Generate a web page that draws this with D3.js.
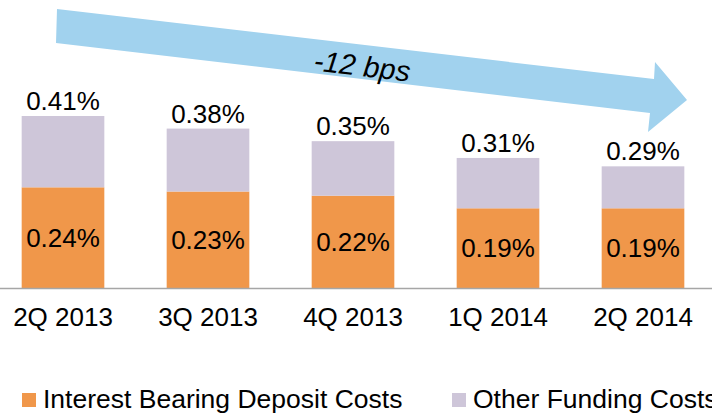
<!DOCTYPE html>
<html>
<head>
<meta charset="utf-8">
<script src="https://cdn.jsdelivr.net/npm/d3@7"></script>
<style>
  body { margin: 0; background: #fff; }
  svg { display: block; font-family: "Liberation Sans", Arial, sans-serif; }
</style>
</head>
<body>
<svg id="chart"></svg>
<script>
// funding cost by quarter, in percent
var quarters = ["2Q 2013", "3Q 2013", "4Q 2013", "1Q 2014", "2Q 2014"];
var depositCosts = [0.24, 0.23, 0.22, 0.19, 0.19];
var otherCosts = [0.17, 0.15, 0.13, 0.12, 0.10];
var totalLabels = ["0.41%", "0.38%", "0.35%", "0.31%", "0.29%"];
var seriesNames = ["Interest Bearing Deposit Costs", "Other Funding Costs"];
var changeLabel = "-12 bps";

var width = 712;
var height = 414;
var baseline = 288;
var colors = ["#f0974a", "#cec6d9"];

var data = quarters.map(function(q, i) {
  return { q: q, deposit: depositCosts[i], other: otherCosts[i], total: depositCosts[i] + otherCosts[i] };
});

var svg = d3.select("#chart")
    .attr("width", width)
    .attr("height", height);

var x = d3.scaleBand()
    .domain(quarters)
    .range([-9.5, 715.5])
    .paddingInner(0.43)
    .paddingOuter(0.215);

var y = d3.scaleLinear()
    .domain([0, 0.41])
    .range([baseline, 116]);

// trend arrow behind the bars
var ax0 = 56, ax1 = 652, tipX = 687;
var arrow = [
  [ax0 + 1, 9], [ax1 + 2, 79], [ax1 + 3, 62], [tipX, 100],
  [ax1 - 4, 132], [ax1 - 2, 113], [ax0, 43]
];
svg.append("polygon")
    .attr("points", arrow.map(p => p.join(",")).join(" "))
    .attr("fill", "#a1d2ee");

var angle = Math.atan2(79 - 9, ax1 - ax0) * 180 / Math.PI;
svg.append("text")
    .attr("transform", "translate(361,76) rotate(" + angle + ")")
    .attr("text-anchor", "middle")
    .style("font-size", "29px")
    .style("font-style", "italic")
    .text(changeLabel);

var g = svg.append("g")
  .selectAll("g")
    .data(data)
    .join("g");

g.append("rect")
    .attr("x", d => x(d.q))
    .attr("width", x.bandwidth())
    .attr("y", d => y(d.deposit))
    .attr("height", d => baseline - y(d.deposit))
    .attr("fill", colors[0]);

g.append("rect")
    .attr("x", d => x(d.q))
    .attr("width", x.bandwidth())
    .attr("y", d => y(d.total))
    .attr("height", d => y(d.deposit) - y(d.total))
    .attr("fill", colors[1]);

g.append("text")
    .attr("x", d => x(d.q) + x.bandwidth() / 2)
    .attr("y", d => (y(d.deposit) + baseline) / 2 + 9)
    .attr("text-anchor", "middle")
    .style("font-size", "26px")
    .text(d => d3.format(".2f")(d.deposit) + "%");

g.append("text")
    .attr("x", d => x(d.q) + x.bandwidth() / 2)
    .attr("y", d => y(d.total) - 6)
    .attr("text-anchor", "middle")
    .style("font-size", "26px")
    .text((d, i) => totalLabels[i]);

// axis
var xAxis = d3.axisBottom(x).tickSize(0).tickPadding(20);
var axisG = svg.append("g")
    .attr("transform", "translate(0," + baseline + ")")
    .call(xAxis);
axisG.select(".domain").remove();
axisG.selectAll("text")
    .style("font-size", "26px")
    .style("font-family", "Liberation Sans, Arial, sans-serif")
    .attr("fill", "#000");

svg.append("line")
    .attr("x1", 0)
    .attr("x2", width)
    .attr("y1", baseline + 0.5)
    .attr("y2", baseline + 0.5)
    .attr("stroke", "#a6a6a6")
    .attr("stroke-width", 1.5);

// legend
var legendX = [22, 452];
var legend = svg.append("g")
  .selectAll("g")
    .data(seriesNames)
    .join("g")
    .attr("transform", (d, i) => "translate(" + legendX[i] + ",393)");

legend.append("rect")
    .attr("width", 14)
    .attr("height", 14)
    .attr("fill", (d, i) => colors[i]);

legend.append("text")
    .attr("x", 21)
    .attr("y", 15)
    .style("font-size", "26.5px")
    .text(d => d);
</script>
</body>
</html>
